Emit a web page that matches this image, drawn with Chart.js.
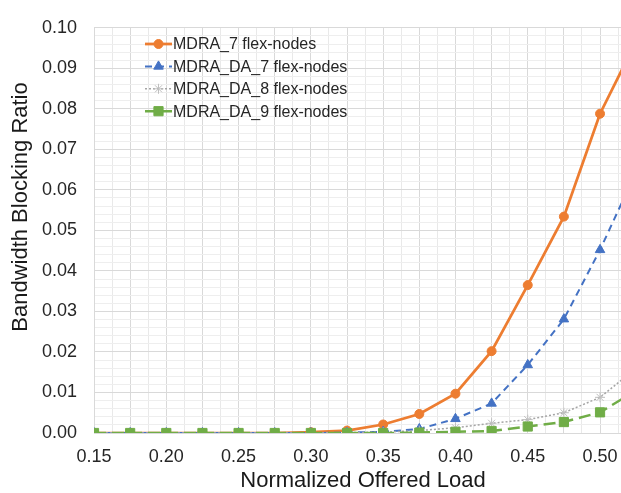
<!DOCTYPE html>
<html>
<head>
<meta charset="utf-8">
<script src="https://cdn.jsdelivr.net/npm/chart.js@4.4.1/dist/chart.umd.min.js"></script>
<style>
  html, body { margin: 0; padding: 0; background: #fff; overflow: hidden; }
  #wrap { width: 621px; height: 493px; position: relative; }
</style>
</head>
<body>
<div id="wrap"><canvas id="blocking"></canvas></div>
<script>
/* data */
var loads = [0.15, 0.175, 0.20, 0.225, 0.25, 0.275, 0.30, 0.325, 0.35, 0.375, 0.40, 0.425, 0.45, 0.475, 0.50, 0.525];
var mdra7   = [0, 0, 0, 0, 0, 0, 0.0002, 0.0006, 0.0021, 0.0047, 0.0097, 0.0202, 0.0365, 0.0534, 0.0788, 0.0967];
var mdraDa7 = [0, 0, 0, 0, 0, 0, 0, 0.0001, 0.0003, 0.0010, 0.0035, 0.0073, 0.0168, 0.0281, 0.0452, 0.0645];
var mdraDa8 = [0, 0, 0, 0, 0, 0, 0, 0.0001, 0.0002, 0.0006, 0.0013, 0.0024, 0.0033, 0.0050, 0.0088, 0.0160];
var mdraDa9 = [0, 0, 0, 0, 0, 0, 0, 0, 0, 0.0001, 0.0003, 0.0005, 0.0016, 0.0027, 0.0051, 0.0105];
var seriesNames = ["MDRA_7 flex-nodes", "MDRA_DA_7 flex-nodes", "MDRA_DA_8 flex-nodes", "MDRA_DA_9 flex-nodes"];
var xTitle = "Normalized Offered Load";
var yTitle = "Bandwidth Blocking Ratio";

var FONT = "'Liberation Sans', Arial, Helvetica, sans-serif";

var toPoints = function(values) {
  return values.map(function(v, i) { return {x: loads[i], y: v}; });
};

// legend inside the plot, line + marker like the spreadsheet one
var insideLegend = {
  id: 'insideLegend',
  afterDraw: function(chart) {
    var ctx = chart.ctx;
    ctx.save();
    chart.data.datasets.forEach(function(ds, i) {
      var y = 44 + i * 22.4;
      ctx.strokeStyle = ds.borderColor;
      ctx.lineWidth = ds.borderWidth;
      ctx.setLineDash(ds.borderDash || []);
      ctx.beginPath();
      ctx.moveTo(145, y);
      ctx.lineTo(172, y);
      ctx.stroke();
      ctx.setLineDash([]);
      ctx.fillStyle = ds.pointBackgroundColor;
      ctx.strokeStyle = ds.pointBorderColor;
      ctx.lineWidth = ds.pointBorderWidth;
      Chart.helpers.drawPoint(ctx, {pointStyle: ds.pointStyle, radius: ds.pointRadius, rotation: 0, borderWidth: ds.pointBorderWidth}, 158.5, y);
      ctx.fillStyle = '#262626';
      ctx.font = '16px ' + FONT;
      ctx.textAlign = 'left';
      ctx.textBaseline = 'middle';
      ctx.fillText(ds.label, 173, y + 1);
    });
    ctx.restore();
  }
};

// axis titles placed where the figure has them
var axisTitles = {
  id: 'axisTitles',
  afterDraw: function(chart) {
    var ctx = chart.ctx;
    ctx.save();
    ctx.fillStyle = '#1a1a1a';
    ctx.font = '22px ' + FONT;
    ctx.textAlign = 'center';
    ctx.textBaseline = 'middle';
    ctx.fillText(xTitle, 363, 481);
    ctx.translate(21, 207);
    ctx.rotate(-Math.PI / 2);
    ctx.fillText(yTitle, 0, 0);
    ctx.restore();
  }
};

var isMultiple = function(v, step) {
  return Math.round(v * 10000) % Math.round(step * 10000) === 0;
};

new Chart(document.getElementById('blocking'), {
  type: 'line',
  data: {
    datasets: [{
      label: seriesNames[0],
      data: toPoints(mdra7),
      borderColor: '#ED7D31',
      borderWidth: 2.75,
      pointStyle: 'circle',
      pointRadius: 4.5,
      pointBackgroundColor: '#ED7D31',
      pointBorderColor: '#ED7D31',
      pointBorderWidth: 1,
      order: 3
    }, {
      label: seriesNames[1],
      data: toPoints(mdraDa7),
      borderColor: '#4472C4',
      borderWidth: 2,
      borderDash: [7, 5],
      pointStyle: 'triangle',
      pointRadius: 5.5,
      pointBackgroundColor: '#4472C4',
      pointBorderColor: '#4472C4',
      pointBorderWidth: 1,
      order: 2
    }, {
      label: seriesNames[2],
      data: toPoints(mdraDa8),
      borderColor: '#A5A5A5',
      borderWidth: 1.5,
      borderDash: [2, 2],
      pointStyle: 'star',
      pointRadius: 5,
      pointBackgroundColor: '#BFBFBF',
      pointBorderColor: '#BFBFBF',
      pointBorderWidth: 1,
      order: 1
    }, {
      label: seriesNames[3],
      data: toPoints(mdraDa9),
      borderColor: '#70AD47',
      borderWidth: 2.5,
      borderDash: [12, 6],
      pointStyle: 'rect',
      pointRadius: 6.5,
      pointBackgroundColor: '#70AD47',
      pointBorderColor: '#70AD47',
      pointBorderWidth: 1,
      order: 0
    }]
  },
  options: {
    responsive: true,
    maintainAspectRatio: false,
    animation: false,
    // no auto padding: the plot runs off the right edge like the figure
    layout: { autoPadding: false, padding: { top: 17, left: 0, right: 0, bottom: 0 } },
    plugins: {
      legend: { display: false },
      tooltip: { enabled: false }
    },
    scales: {
      x: {
        type: 'linear',
        min: 0.15,
        max: 0.5145,
        afterFit: function(scale) {
          scale.height = 60;
          scale.paddingRight = 0;
        },
        border: { display: true, color: '#d9d9d9' },
        grid: {
          drawTicks: false,
          color: function(c) { return isMultiple(c.tick.value, 0.025) ? '#d9d9d9' : '#e9e9e9'; }
        },
        ticks: {
          stepSize: 0.0125,
          includeBounds: false,
          autoSkip: false,
          maxRotation: 0,
          padding: 13,
          color: '#262626',
          font: { family: FONT, size: 18 },
          callback: function(v) { return isMultiple(v, 0.05) ? v.toFixed(2) : ''; }
        }
      },
      y: {
        min: 0,
        max: 0.1,
        afterFit: function(scale) { scale.width = 94; },
        border: { display: true, color: '#d9d9d9' },
        grid: {
          drawTicks: false,
          color: function(c) { return isMultiple(c.tick.value, 0.01) ? '#d9d9d9' : '#eeeeee'; }
        },
        ticks: {
          stepSize: 0.002,
          autoSkip: false,
          padding: 17,
          color: '#262626',
          font: { family: FONT, size: 18 },
          callback: function(v) { return isMultiple(v, 0.01) ? v.toFixed(2) : ''; }
        }
      }
    }
  },
  plugins: [insideLegend, axisTitles]
});
</script>
</body>
</html>
